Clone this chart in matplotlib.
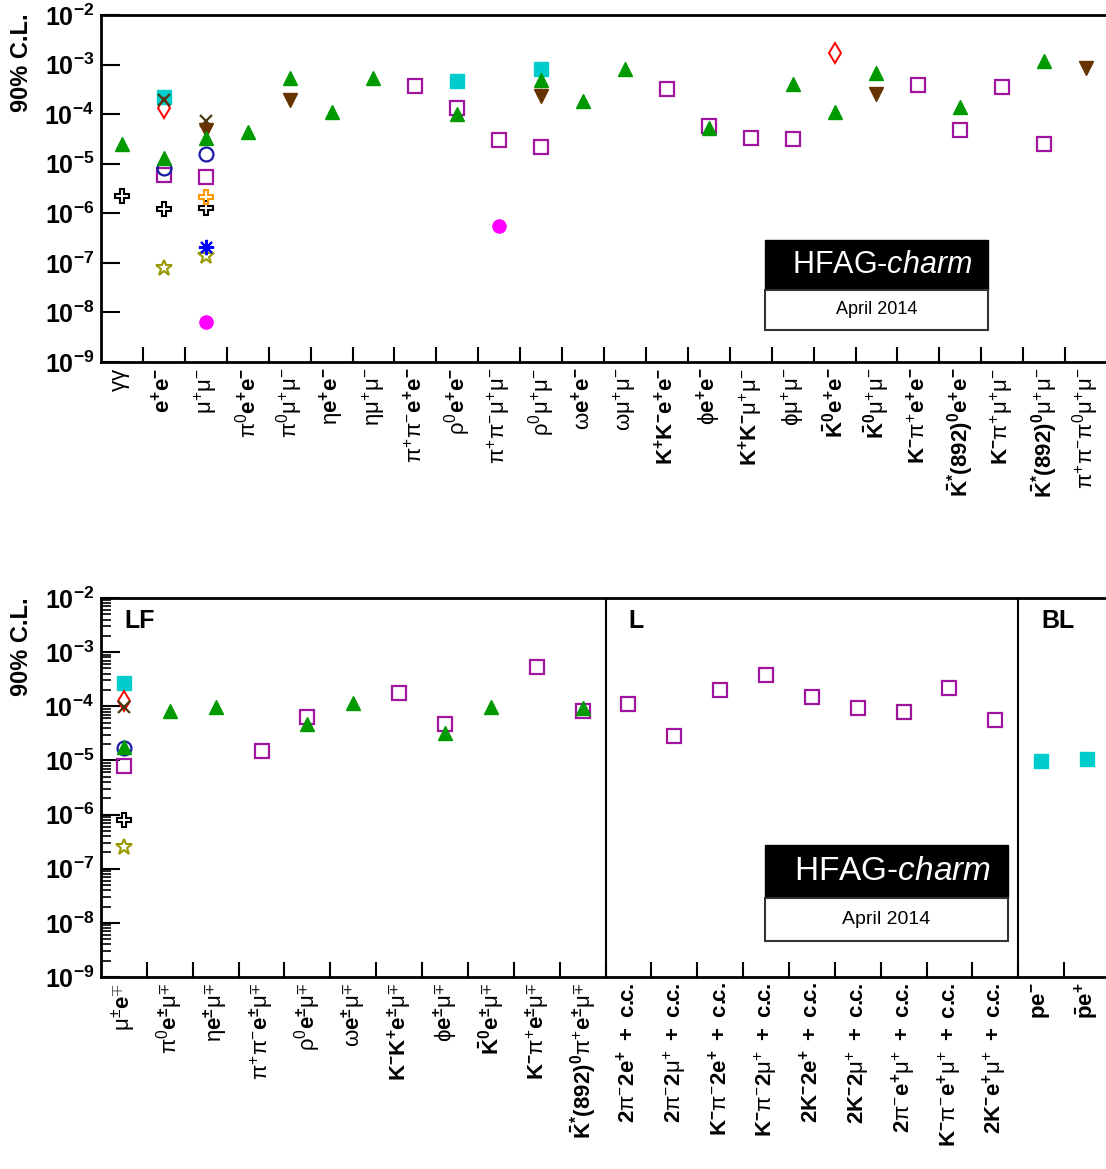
import numpy as np
import matplotlib
matplotlib.use("Agg")
from matplotlib import pyplot as plt
from matplotlib.patches import Rectangle
from matplotlib.ticker import FuncFormatter, NullFormatter

plt.rcParams['font.family'] = 'Liberation Sans'
plt.rcParams['mathtext.fontset'] = 'custom'
plt.rcParams['mathtext.rm'] = 'Liberation Sans'
plt.rcParams['mathtext.bf'] = 'Liberation Sans:bold'
plt.rcParams['mathtext.it'] = 'Liberation Sans:italic'
plt.rcParams['mathtext.default'] = 'regular'

W, H = 1106, 1169

# ---------------- top panel: rare / forbidden D0 decays ----------------
top_labels = [
    r'$\gamma\gamma$', r'$\mathbf{e^{+}e^{-}}$', r'$\mu^{+}\mu^{-}$',
    r'$\pi^{0}\mathbf{e^{+}e^{-}}$', r'$\pi^{0}\mu^{+}\mu^{-}$',
    r'$\eta\mathbf{e^{+}e^{-}}$', r'$\eta\mu^{+}\mu^{-}$',
    r'$\pi^{+}\pi^{-}\mathbf{e^{+}e^{-}}$', r'$\rho^{0}\mathbf{e^{+}e^{-}}$',
    r'$\pi^{+}\pi^{-}\mu^{+}\mu^{-}$', r'$\rho^{0}\mu^{+}\mu^{-}$',
    r'$\omega\mathbf{e^{+}e^{-}}$', r'$\omega\mu^{+}\mu^{-}$',
    r'$\mathbf{K^{+}K^{-}e^{+}e^{-}}$', r'$\phi\mathbf{e^{+}e^{-}}$',
    r'$\mathbf{K^{+}K^{-}}\mu^{+}\mu^{-}$', r'$\phi\mu^{+}\mu^{-}$',
    r'$\mathbf{\bar{K}^{0}e^{+}e^{-}}$', r'$\mathbf{\bar{K}^{0}}\mu^{+}\mu^{-}$',
    r'$\mathbf{K^{-}}\pi^{+}\mathbf{e^{+}e^{-}}$',
    r'$\mathbf{\bar{K}^{*}(892)^{0}e^{+}e^{-}}$',
    r'$\mathbf{K^{-}}\pi^{+}\mu^{+}\mu^{-}$',
    r'$\mathbf{\bar{K}^{*}(892)^{0}}\mu^{+}\mu^{-}$',
    r'$\pi^{+}\pi^{-}\pi^{0}\mu^{+}\mu^{-}$',
]

top_sq_idx = [1, 2, 7, 8, 9, 10, 13, 14, 15, 16, 19, 20, 21, 22]
top_sq_val = [5.9e-6, 5.4e-6, 3.7e-4, 1.3e-4, 3.0e-5, 2.2e-5, 3.2e-4, 5.8e-5,
              3.3e-5, 3.1e-5, 3.85e-4, 4.7e-5, 3.5e-4, 2.5e-5]
top_circ_idx = [1, 2]
top_circ_val = [8.3e-6, 1.6e-5]
top_cyan_idx = [1, 8, 10]
top_cyan_val = [2.2e-4, 4.7e-4, 8.3e-4]
top_diam_idx = [1, 17]
top_diam_val = [1.3e-4, 1.7e-3]
top_x_idx = [1, 2]
top_x_val = [1.9e-4, 7.3e-5]
top_down_idx = [2, 4, 10, 18, 23]
top_down_val = [4.7e-5, 1.9e-4, 2.3e-4, 2.6e-4, 8.5e-4]
top_tri_idx = [0, 1, 2, 3, 4, 5, 6, 8, 10, 11, 12, 14, 16, 17, 18, 20, 22]
top_tri_val = [2.5e-5, 1.3e-5, 3.3e-5, 4.4e-5, 5.4e-4, 1.1e-4, 5.4e-4, 1.0e-4,
               4.9e-4, 1.8e-4, 8.3e-4, 5.2e-5, 4.1e-4, 1.1e-4, 6.8e-4, 1.4e-4, 1.2e-3]
top_cross_idx = [0, 1, 2]
top_cross_val = [2.2e-6, 1.2e-6, 1.3e-6]
top_ocross_idx = [2]
top_ocross_val = [2.1e-6]
top_star_idx = [1, 2]
top_star_val = [7.9e-8, 1.4e-7]
top_ast_idx = [2]
top_ast_val = [2.1e-7]
top_dot_idx = [2, 9]
top_dot_val = [6.5e-9, 5.6e-7]

# ---------------- bottom panel: LF / L / BL ----------------
CC = r'\mathbf{\ +\ c.\!\!c.}'
bot_labels = [
    r'$\mu^{\pm}\mathbf{e^{\mp}}$', r'$\pi^{0}\mathbf{e^{\pm}}\mu^{\mp}$',
    r'$\eta\mathbf{e^{\pm}}\mu^{\mp}$', r'$\pi^{+}\pi^{-}\mathbf{e^{\pm}}\mu^{\mp}$',
    r'$\rho^{0}\mathbf{e^{\pm}}\mu^{\mp}$', r'$\omega\mathbf{e^{\pm}}\mu^{\mp}$',
    r'$\mathbf{K^{-}K^{+}e^{\pm}}\mu^{\mp}$', r'$\phi\mathbf{e^{\pm}}\mu^{\mp}$',
    r'$\mathbf{\bar{K}^{0}e^{\pm}}\mu^{\mp}$',
    r'$\mathbf{K^{-}}\pi^{+}\mathbf{e^{\pm}}\mu^{\mp}$',
    r'$\mathbf{\bar{K}^{*}(892)^{0}}\pi^{+}\mathbf{e^{\pm}}\mu^{\mp}$',
    r'$\mathbf{2}\pi^{-}\mathbf{2e^{+}}' + CC + '$',
    r'$\mathbf{2}\pi^{-}\mathbf{2}\mu^{+}' + CC + '$',
    r'$\mathbf{K^{-}}\pi^{-}\mathbf{2e^{+}}' + CC + '$',
    r'$\mathbf{K^{-}}\pi^{-}\mathbf{2}\mu^{+}' + CC + '$',
    r'$\mathbf{2K^{-}2e^{+}}' + CC + '$',
    r'$\mathbf{2K^{-}2}\mu^{+}' + CC + '$',
    r'$\mathbf{2}\pi^{-}\mathbf{e^{+}}\mu^{+}' + CC + '$',
    r'$\mathbf{K^{-}}\pi^{-}\mathbf{e^{+}}\mu^{+}' + CC + '$',
    r'$\mathbf{2K^{-}e^{+}}\mu^{+}' + CC + '$',
    r'$\mathbf{pe^{-}}$', r'$\mathbf{\bar{p}e^{+}}$',
]
bot_sections = ['LF', 'L', 'BL']
bot_section_start = [0, 11, 20]

bot_sq_idx = [0, 3, 4, 6, 7, 9, 10, 11, 12, 13, 14, 15, 16, 17, 18, 19]
bot_sq_val = [7.9e-6, 1.5e-5, 6.3e-5, 1.75e-4, 4.7e-5, 5.3e-4, 8.2e-5, 1.1e-4,
              2.8e-5, 2.0e-4, 3.8e-4, 1.5e-4, 9.3e-5, 7.8e-5, 2.2e-4, 5.5e-5]
bot_circ_idx = [0]
bot_circ_val = [1.7e-5]
bot_cyan_idx = [0, 20, 21]
bot_cyan_val = [2.7e-4, 9.8e-6, 1.05e-5]
bot_diam_idx = [0]
bot_diam_val = [1.26e-4]
bot_x_idx = [0]
bot_x_val = [9.8e-5]
bot_tri_idx = [0, 1, 2, 4, 5, 7, 8, 10]
bot_tri_val = [1.8e-5, 8.1e-5, 9.7e-5, 4.7e-5, 1.15e-4, 3.2e-5, 9.8e-5, 9.3e-5]
bot_cross_idx = [0]
bot_cross_val = [8.0e-7]
bot_star_idx = [0]
bot_star_val = [2.5e-7]

GREEN = '#009900'
MAGENTA = '#a014a0'
CYAN = '#00cccc'
BLUE = '#1a1aa6'
RED = '#ff0000'
DARKX = '#4a3a14'
BROWN = '#663300'
OLIVE = '#999900'
ORANGE = '#ff9900'
PINK = '#ff00ff'


def pts(ax, idx, val, **kw):
    ax.plot(np.array(idx) + 0.5, val, ls='none', **kw)


def style_axes(ax, labels):
    n = len(labels)
    ax.set_yscale('log')
    ax.set_ylim(1e-9, 1e-2)
    ax.set_xlim(0, n)
    ax.set_yticks([10.0 ** k for k in range(-9, -1)])
    ax.yaxis.set_major_formatter(FuncFormatter(
        lambda v, p: r'$\mathbf{10^{%d}}$' % round(np.log10(v))))
    ax.yaxis.set_minor_formatter(NullFormatter())
    ax.tick_params(axis='y', which='major', direction='in', length=14, width=1.5,
                   labelsize=18, pad=5)
    ax.tick_params(axis='y', which='minor', direction='in', length=7, width=1.2)
    ax.set_xticks(np.arange(1, n))
    ax.set_xticklabels([])
    ax.tick_params(axis='x', which='major', direction='in', length=11, width=1.5)
    ax.set_xticks(np.arange(n) + 0.5, minor=True)
    ax.set_xticklabels(labels, minor=True, rotation=90, fontsize=16)
    ax.tick_params(axis='x', which='minor', length=0, pad=4)
    for s in ax.spines.values():
        s.set_linewidth(2)


def logo(fig, x0, x1, y0, ym, y1, big, small):
    fig.add_artist(Rectangle((x0 / W, 1 - ym / H), (x1 - x0) / W, (ym - y0) / H,
                             transform=fig.transFigure, facecolor='black',
                             edgecolor='black', lw=1))
    fig.add_artist(Rectangle((x0 / W, 1 - y1 / H), (x1 - x0) / W, (y1 - ym) / H,
                             transform=fig.transFigure, facecolor='white',
                             edgecolor='#333333', lw=1.5))
    fig.text((x0 + x1) / 2 / W + 0.005, 1 - (y0 + ym) / 2 / H, r'HFAG-$\mathit{charm}$',
             color='white', fontsize=big, ha='center', va='center')
    fig.text((x0 + x1) / 2 / W, 1 - (ym + y1) / 2 / H, 'April 2014',
             color='black', fontsize=small, ha='center', va='center')


fig = plt.figure(figsize=(W / 100, H / 100), dpi=100)

ax1 = fig.add_axes([101 / W, 1 - 362 / H, 1006 / W, 347 / H])
pts(ax1, top_sq_idx, top_sq_val, marker='s', ms=10, mfc='none', mec=MAGENTA, mew=1.6)
pts(ax1, top_circ_idx, top_circ_val, marker='o', ms=10, mfc='none', mec=BLUE, mew=1.6)
pts(ax1, top_cyan_idx, top_cyan_val, marker='s', ms=9.5, color=CYAN)
pts(ax1, top_diam_idx, top_diam_val, marker='d', ms=10.5, mfc='none', mec=RED, mew=1.4)
pts(ax1, top_x_idx, top_x_val, marker='x', ms=9, color=DARKX, mew=1.6)
pts(ax1, top_down_idx, top_down_val, marker='v', ms=9.5, color=BROWN)
pts(ax1, top_tri_idx, top_tri_val, marker='^', ms=9.5, color=GREEN)
pts(ax1, top_cross_idx, top_cross_val, marker='P', ms=10, mfc='none', mec='black', mew=1.5)
pts(ax1, top_ocross_idx, top_ocross_val, marker='P', ms=10, mfc='none', mec=ORANGE, mew=1.5)
pts(ax1, top_star_idx, top_star_val, marker='*', ms=12, mfc='none', mec=OLIVE, mew=1.5)
pts(ax1, top_ast_idx, top_ast_val, marker=(8, 2, 0), ms=11, color='#0000ff', mew=1.5)
pts(ax1, top_dot_idx, top_dot_val, marker='o', ms=9.5, color=PINK)
style_axes(ax1, top_labels)

ax2 = fig.add_axes([101 / W, 1 - 977 / H, 1009 / W, 379 / H])
pts(ax2, bot_sq_idx, bot_sq_val, marker='s', ms=10, mfc='none', mec=MAGENTA, mew=1.6)
pts(ax2, bot_circ_idx, bot_circ_val, marker='o', ms=10, mfc='none', mec=BLUE, mew=1.6)
pts(ax2, bot_cyan_idx, bot_cyan_val, marker='s', ms=9.5, color=CYAN)
pts(ax2, bot_diam_idx, bot_diam_val, marker='d', ms=10.5, mfc='none', mec=RED, mew=1.4)
pts(ax2, bot_x_idx, bot_x_val, marker='x', ms=9, color=DARKX, mew=1.6)
pts(ax2, bot_tri_idx, bot_tri_val, marker='^', ms=9.5, color=GREEN)
pts(ax2, bot_cross_idx, bot_cross_val, marker='P', ms=10, mfc='none', mec='black', mew=1.5)
pts(ax2, bot_star_idx, bot_star_val, marker='*', ms=12, mfc='none', mec=OLIVE, mew=1.5)
style_axes(ax2, bot_labels)
for s0, name in zip(bot_section_start, bot_sections):
    if s0 > 0:
        ax2.axvline(s0, color='black', lw=1.5)
    ax2.text(s0 + 0.5, 0.94, name, transform=ax2.get_xaxis_transform(),
             fontsize=18, fontweight='bold', ha='left', va='center')

for ytop in (13, 597):
    fig.text(22 / W, 1 - ytop / H, '90% C.L.', rotation=90, fontsize=17,
             fontweight='bold', ha='center', va='top')

logo(fig, 765, 988, 240, 290, 330, 22, 13)
logo(fig, 765, 1008, 845, 898, 941, 24, 14)

fig.savefig('out.png', dpi=100)
